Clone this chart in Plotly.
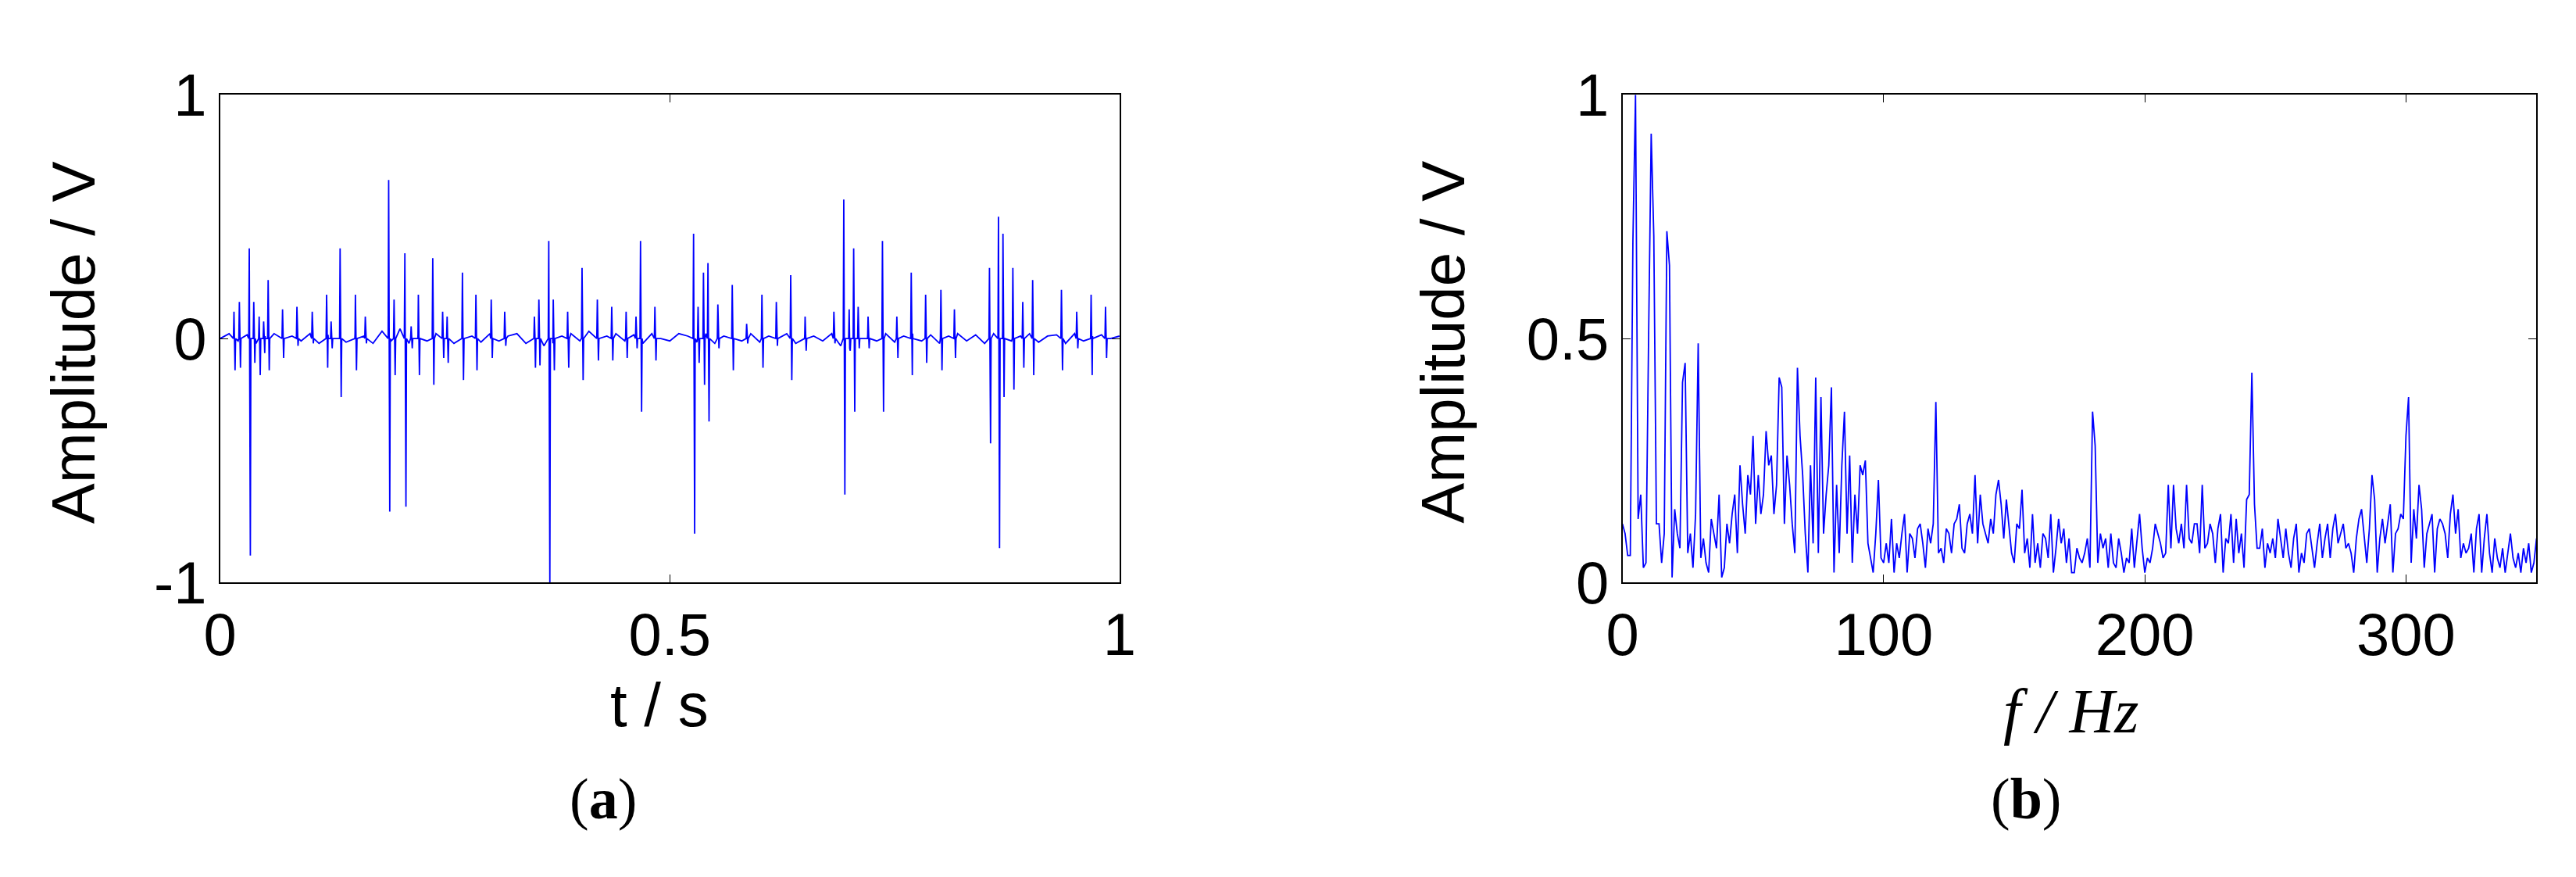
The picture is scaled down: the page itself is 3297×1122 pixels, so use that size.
import plotly.graph_objects as go

# ---------------- data ----------------
# time-domain: baseline samples (t = k/100) and spike events (t, up, down)
baseline_vals = [0.00, 0.02, -0.01, 0.015, -0.02, 0.01, 0.02, -0.015, 0.01, -0.01,
                 0.02, -0.02, 0.015, 0.00, -0.015, 0.02, 0.01, -0.02, 0.03, -0.01,
                 0.04, -0.02, 0.015, -0.01, 0.02, 0.00, -0.02, 0.015, 0.01, -0.015,
                 0.02, -0.01, 0.01, 0.02, -0.02, 0.015, -0.03, -0.02, 0.01, 0.02,
                 -0.01, 0.03, -0.015, 0.01, 0.02, -0.01, 0.015, -0.02, 0.02, 0.00,
                 -0.01, 0.02, 0.01, -0.015, 0.02, -0.02, 0.01, 0.015, -0.01, 0.02,
                 -0.015, 0.01, 0.00, 0.02, -0.02, 0.015, 0.01, -0.01, 0.02, -0.03,
                 -0.04, 0.02, 0.015, -0.01, 0.02, -0.015, 0.01, 0.02, -0.01, 0.015,
                 -0.02, 0.01, 0.02, -0.01, 0.015, -0.02, 0.02, 0.03, -0.01, 0.01,
                 0.02, -0.015, 0.01, 0.015, -0.02, 0.02, -0.01, 0.01, 0.015, 0.00, 0.01]
spike_t = [0.016, 0.022, 0.033, 0.038, 0.044, 0.049, 0.054, 0.070, 0.086, 0.103,
           0.119, 0.124, 0.134, 0.151, 0.162, 0.188, 0.194, 0.206, 0.213, 0.221,
           0.237, 0.248, 0.253, 0.270, 0.285, 0.302, 0.317, 0.350, 0.355, 0.366,
           0.371, 0.387, 0.403, 0.420, 0.436, 0.452, 0.463, 0.468, 0.484, 0.527,
           0.532, 0.538, 0.543, 0.554, 0.570, 0.586, 0.603, 0.619, 0.635, 0.651,
           0.683, 0.694, 0.700, 0.705, 0.710, 0.721, 0.737, 0.753, 0.769, 0.785,
           0.802, 0.817, 0.856, 0.866, 0.871, 0.882, 0.893, 0.904, 0.936, 0.953,
           0.969, 0.985]
spike_up = [0.11, 0.15, 0.37, 0.15, 0.09, 0.07, 0.24, 0.12, 0.13, 0.11,
            0.18, 0.07, 0.37, 0.18, 0.09, 0.65, 0.16, 0.35, 0.05, 0.18,
            0.33, 0.11, 0.09, 0.27, 0.18, 0.16, 0.11, 0.09, 0.16, 0.40,
            0.16, 0.11, 0.29, 0.16, 0.13, 0.11, 0.09, 0.40, 0.13, 0.43,
            0.13, 0.27, 0.31, 0.14, 0.22, 0.06, 0.18, 0.15, 0.26, 0.09,
            0.11, 0.57, 0.12, 0.37, 0.13, 0.09, 0.40, 0.09, 0.27, 0.18,
            0.20, 0.12, 0.29, 0.50, 0.43, 0.29, 0.15, 0.24, 0.20, 0.11,
            0.18, 0.13]
spike_down = [-0.13, -0.12, -0.89, -0.10, -0.15, -0.06, -0.13, -0.08, -0.03, -0.02,
              -0.12, -0.04, -0.24, -0.13, -0.02, -0.71, -0.15, -0.69, -0.04, -0.15,
              -0.19, -0.08, -0.10, -0.17, -0.13, -0.08, -0.03, -0.12, -0.11, -1.00,
              -0.13, -0.12, -0.17, -0.09, -0.09, -0.08, -0.04, -0.30, -0.09, -0.80,
              -0.10, -0.19, -0.34, -0.04, -0.13, -0.02, -0.12, -0.03, -0.17, -0.05,
              -0.02, -0.64, -0.05, -0.30, -0.04, -0.04, -0.30, -0.08, -0.15, -0.10,
              -0.13, -0.08, -0.43, -0.86, -0.24, -0.21, -0.12, -0.15, -0.13, -0.04,
              -0.15, -0.08]

# frequency-domain spectrum, 1 Hz resolution, 0..350 Hz
spec_vals = [
    .12, .10, .055, .055, .70, 1.0, .13, .18, .03, .04,
    .50, .92, .71, .12, .12, .04, .10, .72, .65, .01,
    .15, .10, .07, .41, .45, .06, .10, .03, .14, .49,
    .05, .09, .04, .02, .13, .10, .07, .18, .01, .03,
    .12, .08, .14, .18, .06, .24, .16, .10, .22, .18,
    .30, .12, .22, .14, .18, .31, .24, .26, .14, .20,
    .42, .40, .12, .26, .20, .12, .06, .44, .30, .22,
    .10, .02, .24, .08, .42, .06, .38, .10, .18, .24,
    .40, .02, .20, .06, .24, .35, .10, .26, .04, .18,
    .10, .24, .22, .25, .08, .05, .02, .10, .21, .05,
    .04, .08, .04, .13, .02, .08, .05, .10, .14, .02,
    .10, .09, .05, .11, .12, .08, .03, .11, .08, .12,
    .37, .06, .07, .04, .11, .10, .06, .12, .13, .16,
    .07, .06, .12, .14, .10, .22, .08, .18, .12, .10,
    .08, .13, .10, .18, .21, .16, .09, .17, .12, .06,
    .04, .12, .11, .19, .06, .09, .03, .14, .04, .08,
    .03, .10, .09, .05, .14, .02, .07, .13, .08, .11,
    .04, .09, .02, .02, .07, .05, .04, .06, .09, .03,
    .35, .28, .04, .10, .07, .09, .03, .10, .04, .03,
    .09, .06, .02, .05, .04, .11, .03, .08, .14, .07,
    .02, .05, .04, .07, .12, .10, .08, .05, .06, .20,
    .07, .20, .11, .08, .12, .07, .20, .09, .08, .12,
    .12, .06, .20, .07, .08, .12, .10, .04, .11, .14,
    .02, .09, .08, .14, .04, .13, .06, .10, .03, .17,
    .18, .43, .16, .07, .07, .11, .03, .08, .06, .09,
    .05, .13, .09, .05, .11, .06, .03, .09, .12, .02,
    .06, .04, .10, .11, .07, .03, .08, .12, .05, .09,
    .12, .05, .11, .14, .08, .10, .12, .07, .08, .06,
    .02, .09, .13, .15, .10, .04, .11, .22, .17, .02,
    .09, .13, .08, .12, .16, .02, .10, .11, .14, .13,
    .30, .38, .04, .15, .09, .20, .15, .03, .10, .12,
    .14, .02, .11, .13, .12, .10, .05, .14, .18, .10,
    .15, .05, .08, .06, .07, .10, .02, .11, .14, .02,
    .09, .14, .06, .02, .09, .05, .03, .07, .02, .06,
    .10, .05, .03, .06, .02, .07, .04, .08, .02, .04,
    .09]
spec_freq = list(range(len(spec_vals)))

# build time series from baseline + spikes
pts = [(k / 100.0, v) for k, v in enumerate(baseline_vals)]
for t, u, d in zip(spike_t, spike_up, spike_down):
    pts += [(t - 0.0012, 0.0), (t - 0.0006, u), (t + 0.0006, d), (t + 0.0012, 0.0)]
pts.sort()
tx = [p[0] for p in pts]
ty = [p[1] for p in pts]

W, H = 3297, 1122
fig = go.Figure()
fig.add_trace(go.Scatter(x=tx, y=ty, mode="lines", line=dict(color="#0000ff", width=1.8),
                         xaxis="x", yaxis="y", showlegend=False))
fig.add_trace(go.Scatter(x=spec_freq, y=spec_vals, mode="lines", line=dict(color="#0000ff", width=1.8),
                         xaxis="x2", yaxis="y2", showlegend=False))

tickfont = dict(family="Liberation Sans, Arial", size=76, color="black")
common = dict(showline=True, linecolor="black", linewidth=2, mirror="ticks", ticks="inside",
              ticklen=10, tickcolor="black", showgrid=False, zeroline=False, tickfont=tickfont)

ytop, ybot = 1 - 77 / H, 1 - 752 / H
fig.update_layout(
    width=W, height=H, margin=dict(l=0, r=0, t=0, b=0),
    paper_bgcolor="white", plot_bgcolor="white",
    xaxis=dict(domain=[256 / W, 1422 / W], range=[0, 1], tickvals=[0, 0.5, 1],
               ticktext=["0", "0.5", "1"], anchor="y", **common),
    yaxis=dict(domain=[ybot, ytop], range=[-1, 1], tickvals=[-1, 0, 1],
               ticktext=["-1", "0", "1"], anchor="x", **common),
    xaxis2=dict(domain=[2074 / W, 3259 / W], range=[0, 350], tickvals=[0, 100, 200, 300],
                anchor="y2", **common),
    yaxis2=dict(domain=[ybot, ytop], range=[0, 1], tickvals=[0, 0.5, 1],
                ticktext=["0", "0.5", "1"], anchor="x2", **common),
)

lab = dict(family="Liberation Sans, Arial", size=78, color="black")
serif = "Liberation Serif, Times New Roman"
ann = [
    dict(x=66, y=420, text="Amplitude / V", textangle=-90, font=lab),
    dict(x=1842, y=420, text="Amplitude / V", textangle=-90, font=lab),
    dict(x=826, y=922, text="t / s", font=lab),
    dict(x=2655, y=930, text="<i>f / Hz</i>", font=dict(family=serif, size=80, color="black")),
    dict(x=753, y=1052, text="(<b>a</b>)", font=dict(family=serif, size=74, color="black")),
    dict(x=2597, y=1052, text="(<b>b</b>)", font=dict(family=serif, size=74, color="black")),
]
fig.update_layout(annotations=[dict(xref="paper", yref="paper", x=a["x"] / W, y=1 - a["y"] / H,
                                    text=a["text"], textangle=a.get("textangle", 0), font=a["font"],
                                    showarrow=False, xanchor="center", yanchor="middle") for a in ann])

fig.write_html("out.html")
